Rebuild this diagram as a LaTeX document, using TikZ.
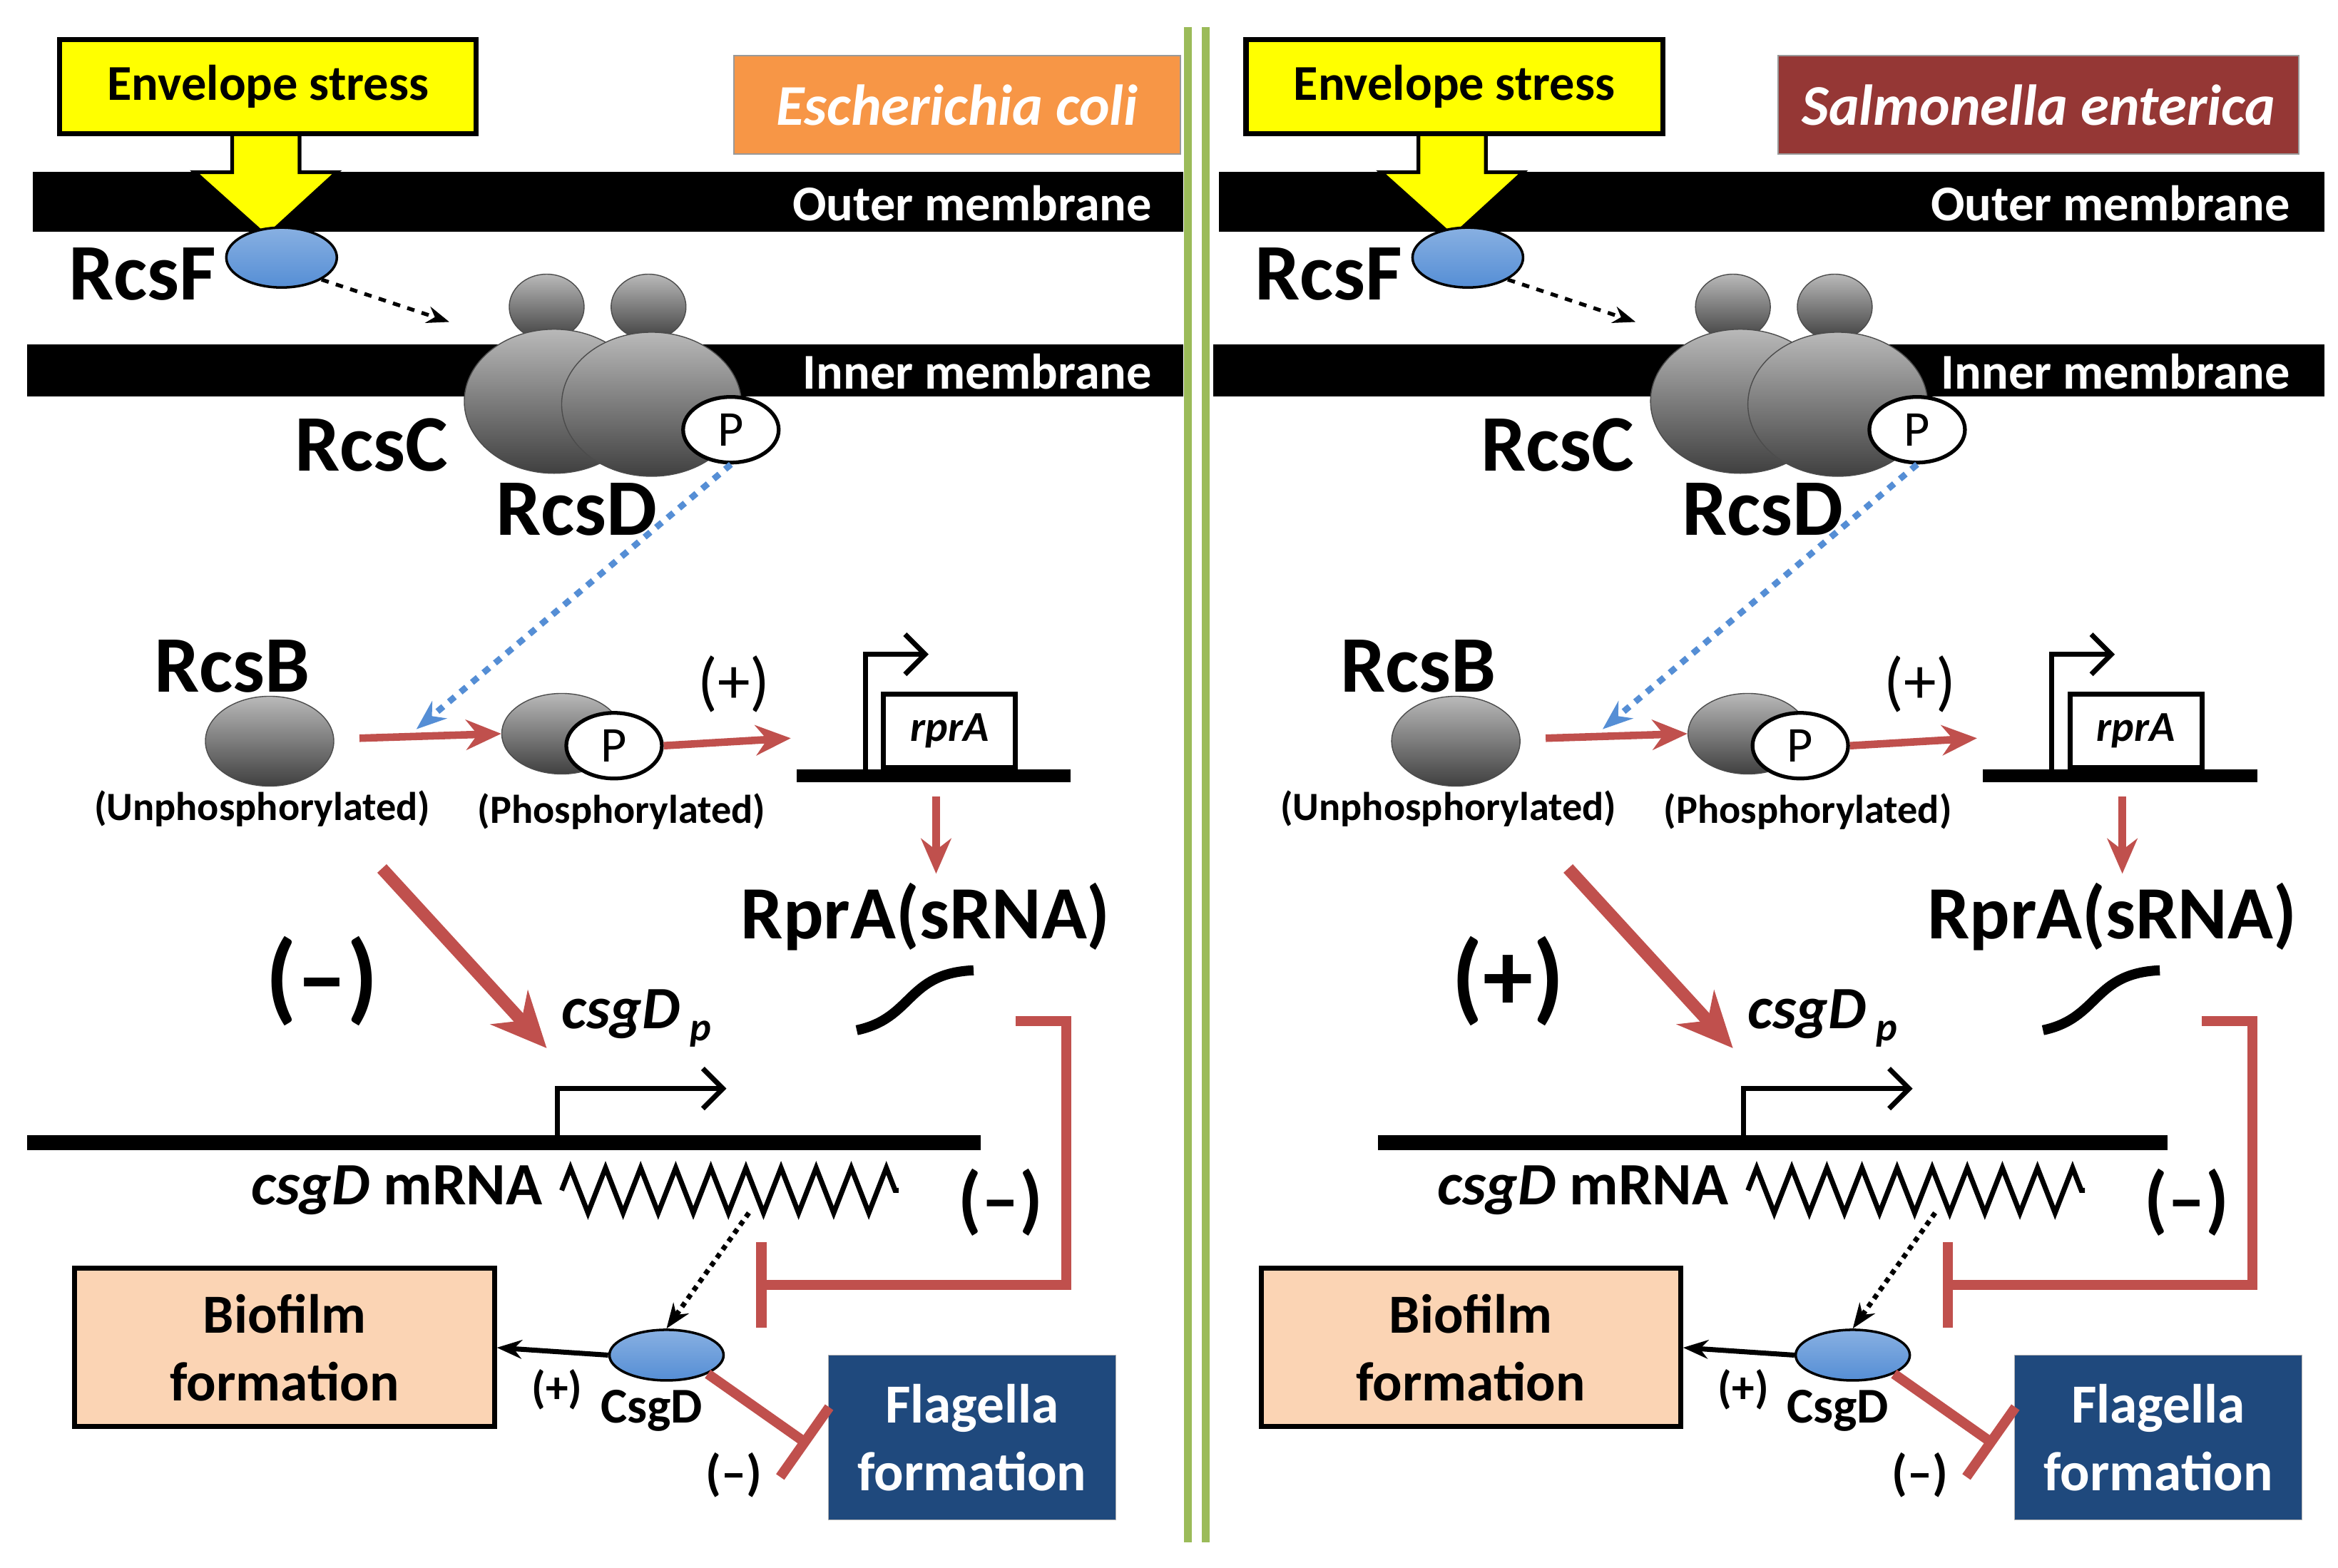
\documentclass[tikz,border=0pt]{standalone}
\usepackage{fontspec}
\setmainfont{Carlito}
\usetikzlibrary{arrows.meta,decorations.pathmorphing,shapes.geometric}
\definecolor{stressyellow}{RGB}{255,255,0}
\definecolor{ecoli}{RGB}{247,150,70}
\definecolor{salmo}{RGB}{149,55,53}
\definecolor{actred}{RGB}{192,80,77}
\definecolor{protblue}{RGB}{85,142,213}
\definecolor{biofilm}{RGB}{251,212,180}
\definecolor{flagella}{RGB}{31,73,125}
\definecolor{divgreen}{RGB}{155,187,89}

\tikzset{
  lbl/.style={font=\fontsize{20}{22}\selectfont\bfseries},
  big/.style={font=\fontsize{32}{34}\selectfont\bfseries},
  small/.style={font=\fontsize{16}{18}\selectfont\bfseries},
  memtext/.style={font=\fontsize{20}{22}\selectfont\bfseries, text=white, anchor=east},
  grayprot/.style={shape=ellipse, draw=black!70, top color=gray!55, bottom color=black!75, inner sep=0pt},
  phos/.style={shape=ellipse, draw=black, line width=1.5pt, fill=white, minimum width=1.34cm, minimum height=0.92cm, inner sep=0pt, font=\fontsize{20}{22}\selectfont},
  blueprot/.style={shape=ellipse, draw=black, line width=1pt, top color=protblue!70, bottom color=protblue, inner sep=0pt},
  redarrow/.style={draw=actred, line width=3pt, -{Stealth[length=14pt,width=12pt]}},
  bigred/.style={draw=actred, line width=5pt, -{Stealth[length=22pt,width=20pt]}},
  inhibit/.style={draw=actred, line width=4pt, -{Bar[width=34pt]}},
  boxed/.style={draw=black, line width=2pt, align=center, inner sep=0pt},
}

\begin{document}
\begin{tikzpicture}[x=0.021cm, y=-0.021cm]
\useasboundingbox[fill=white] (0,0) rectangle (1561,1047);

% divider between the two species
\draw[divgreen, line width=3pt] (793,18) -- (793,1030);
\draw[divgreen, line width=3pt] (805,18) -- (805,1030);

\foreach \p/\dx/\title/\tcol/\tw/\tx/\sign/\dnastart/\memend/\memtx in
  {L/0/Escherichia coli/ecoli/6.26/639/(--)/18/790/775,
   R/792/Salmonella enterica/salmo/7.3/569/(+)/128/760/743}{
\begin{scope}[xshift=\dx*0.021cm]
  % membranes
  \fill[black] (22,115) rectangle (\memend,155);
  \fill[black] (18,230) rectangle (\memend,265);
  \node[memtext] (\p-om) at (\memtx,136) {Outer membrane};
  \node[memtext] (\p-im) at (\memtx,248) {Inner membrane};

  % envelope stress
  \draw[fill=stressyellow, line width=1.5pt] (155,88) -- (200,88) -- (200,115) -- (225,115)
    -- (178,158) -- (130,115) -- (155,115) -- cycle;
  \node[boxed, fill=stressyellow, minimum width=5.84cm, minimum height=1.32cm, lbl] (\p-stress) at (179,58) {Envelope stress};
  \node[draw=black!40, fill=\tcol, text=white, minimum width=\tw cm, minimum height=1.38cm,
    font=\fontsize{23}{26}\selectfont\bfseries\itshape] (\p-title) at (\tx,70) {\title};

  % RcsF
  \node[blueprot, minimum width=1.55cm, minimum height=0.84cm] (\p-F) at (188,172) {};
  \node[big] (\p-Flbl) at (95,183) {RcsF};
  \draw[dashed, line width=1.5pt, -{Stealth[length=9pt]}] (\p-F.south east) -- (300,215);

  % RcsC / RcsD
  \node[grayprot, minimum width=1.05cm, minimum height=0.92cm] (\p-hc) at (365,205) {};
  \node[grayprot, minimum width=1.05cm, minimum height=0.92cm] (\p-hd) at (433,205) {};
  \node[grayprot, minimum width=2.52cm, minimum height=2.02cm] (\p-C) at (370,268) {};
  \node[grayprot, minimum width=2.52cm, minimum height=2.02cm] (\p-D) at (435,270) {};
  \node[phos] (\p-PD) at (488,287) {P};
  \node[big] (\p-Clbl) at (248,297) {RcsC};
  \node[big] (\p-Dlbl) at (385,340) {RcsD};

  % RcsB
  \node[big] (\p-Blbl) at (155,445) {RcsB};
  \node[grayprot, minimum width=1.8cm, minimum height=1.26cm] (\p-B) at (180,495) {};
  \node[small] (\p-unp) at (175,540) {(Unphosphorylated)};
  \node[grayprot, minimum width=1.68cm, minimum height=1.13cm] (\p-Bp) at (375,490) {};
  \node[phos] (\p-PB) at (410,498) {P};
  \node[small] (\p-php) at (415,542) {(Phosphorylated)};
  \coordinate (\p-hit) at (278,487);
  \draw[dashed, protblue, line width=2.5pt, -{Stealth[length=12pt]}] (\p-PD.south) -- (\p-hit);
  \draw[redarrow] (240,493) -- (\p-Bp.west);
  \draw[redarrow] (\p-PB.east) -- (528,493);
  \node[font=\fontsize{26}{28}\selectfont] (\p-plus) at (490,457) {(+)};

  % rprA gene
  \draw[line width=5pt] (532,518) -- (715,518);
  \node[draw=black, line width=2pt, minimum width=1.85cm, minimum height=1.03cm,
    font=\fontsize{17}{19}\selectfont\bfseries\itshape] (\p-rprA) at (634,488) {rprA};
  \draw[line width=2pt, -{Straight Barb[length=8pt]}] (578,515) -- (578,437) -- (620,437);
  \node[font=\fontsize{30}{32}\selectfont\bfseries] (\p-sRNA) at (618,612) {RprA(sRNA)};
  \draw[redarrow] (625,532) -- (\p-sRNA.north -| 625,0);
  \draw[line width=4pt] (572,688) .. controls (610,680) and (605,650) .. (650,648);

  % csgD promoter region
  \draw[bigred] (255,580) -- (365,700);
  \node[font=\fontsize{40}{42}\selectfont\bfseries] (\p-sign) at (215,655) {\sign};
  \node[font=\fontsize{24}{26}\selectfont\bfseries\itshape] (\p-csgDp) at (425,680) {csgD\,\raisebox{-0.4ex}{\fontsize{16}{18}\selectfont p}};
  \draw[line width=6pt] (\dnastart,763) -- (655,763);
  \draw[line width=2pt, -{Straight Barb[length=8pt]}] (372,761) -- (372,727) -- (485,727);
  \node[font=\fontsize{24}{26}\selectfont\bfseries] (\p-mRNA) at (265,795) {\textit{csgD} mRNA};
  \coordinate (\p-z0) at (375,795);
  \coordinate (\p-z1) at (600,795);
  \draw[line width=2pt, decorate, decoration={zigzag, amplitude=9pt, segment length=14pt}] (\p-z0) -- (\p-z1);

  % sRNA inhibition
  \coordinate (\p-s0) at (678,682);
  \coordinate (\p-s1) at (505,858);
  \draw[inhibit] (\p-s0) -- (712,682) -- (712,858) -- (\p-s1);
  \node[font=\fontsize{30}{32}\selectfont\bfseries] (\p-neg) at (668,803) {(--)};

  % CsgD and outputs
  \node[blueprot, minimum width=1.6cm, minimum height=0.71cm] (\p-CsgD) at (445,905) {};
  \draw[dotted, line width=2pt, -{Stealth[length=10pt]}] (500,810) -- (\p-CsgD.north);
  \node[boxed, fill=biofilm, minimum width=5.88cm, minimum height=2.22cm,
    font=\fontsize{22}{27}\selectfont\bfseries] (\p-bio) at (190,900) {Biofilm\\formation};
  \draw[line width=2pt, -{Stealth[length=10pt]}] (\p-CsgD.west) -- (\p-bio.east);
  \node[font=\fontsize{18}{20}\selectfont\bfseries] (\p-pos) at (372,928) {(+)};
  \node[font=\fontsize{20}{22}\selectfont\bfseries] (\p-Csglbl) at (435,942) {CsgD};
  \node[draw=black!30, fill=flagella, text=white, align=center, minimum width=4.03cm, minimum height=2.31cm,
    font=\fontsize{22}{27}\selectfont\bfseries] (\p-flag) at (649,960) {Flagella\\formation};
  \draw[inhibit] (\p-CsgD.south east) -- (540,965);
  \node[font=\fontsize{20}{22}\selectfont\bfseries] (\p-neg2) at (490,985) {(--)};
\end{scope}
}
\end{tikzpicture}
\end{document}
